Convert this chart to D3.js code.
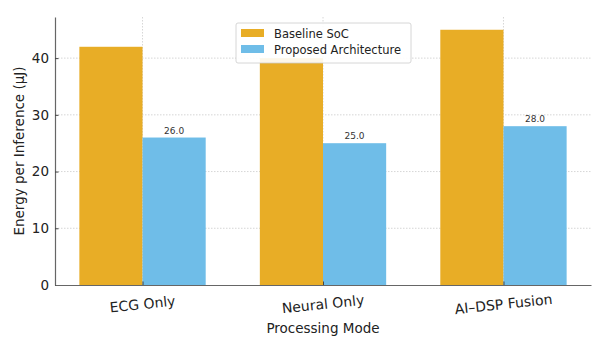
<!DOCTYPE html>
<html>
<head>
<meta charset="utf-8">
<script src="https://cdn.jsdelivr.net/npm/d3@7"></script>
<style>
  body { margin: 0; background: #fff; }
  svg { font-family: "DejaVu Sans", sans-serif; }
</style>
</head>
<body>
<div id="chart"></div>
<script>
const modes = ["ECG Only", "Neural Only", "AI\u2013DSP Fusion"];
const seriesNames = ["Baseline SoC", "Proposed Architecture"];
const baseline = [42, 40, 45];
const proposed = [26, 25, 28];
const yTicks = [0, 10, 20, 30, 40];
const colors = ["#E8AD26", "#6FBDE8"];

const w = 602, h = 350;
const padL = 55, padR = 591, padT = 17, padB = 285;

const svg = d3.select("#chart").append("svg")
  .attr("width", w).attr("height", h);

// category index scale with matplotlib-like margins
const barW = 0.35;
const xScale = d3.scaleLinear()
  .domain([-barW - 0.135, 2 + barW + 0.135])
  .range([padL, padR]);
const yScale = d3.scaleLinear()
  .domain([0, 47.25])
  .range([padB, padT]);

// grid
svg.append("g").selectAll("line")
  .data(yTicks.slice(1))
  .enter().append("line")
  .attr("x1", padL).attr("x2", padR)
  .attr("y1", d => yScale(d)).attr("y2", d => yScale(d))
  .attr("stroke", "#ccc").attr("stroke-width", 0.8)
  .attr("stroke-dasharray", "1.5,1.5");
svg.append("g").selectAll("line")
  .data(modes)
  .enter().append("line")
  .attr("x1", (d, i) => xScale(i)).attr("x2", (d, i) => xScale(i))
  .attr("y1", padT).attr("y2", padB)
  .attr("stroke", "#ccc").attr("stroke-width", 0.8)
  .attr("stroke-dasharray", "1.5,1.5");

const series = [baseline, proposed];
series.forEach((vals, s) => {
  svg.append("g").selectAll("rect")
    .data(vals)
    .enter().append("rect")
    .attr("x", (d, i) => xScale(i - barW + s * barW))
    .attr("width", xScale(barW) - xScale(0))
    .attr("y", d => yScale(d))
    .attr("height", d => padB - yScale(d))
    .attr("fill", colors[s]);
});

// value labels on proposed bars
svg.append("g").selectAll("text")
  .data(proposed)
  .enter().append("text")
  .attr("x", (d, i) => xScale(i + barW / 2))
  .attr("y", d => yScale(d) - 4)
  .attr("text-anchor", "middle")
  .attr("font-size", 9)
  .attr("fill", "#333")
  .text(d => d.toFixed(1));

// y axis
const yAxis = d3.axisLeft(yScale).tickValues(yTicks).tickSizeInner(-3.5).tickSizeOuter(0).tickPadding(6);
const gy = svg.append("g")
  .attr("transform", "translate(" + padL + ",0)")
  .call(yAxis);
gy.select(".domain").attr("stroke", "#666").attr("stroke-width", 1.2);
gy.selectAll(".tick line").attr("stroke", "#444");
gy.selectAll(".tick text").attr("font-size", 13.5).attr("fill", "#222")
  .attr("font-family", "DejaVu Sans");

// x axis
const xAxis = d3.axisBottom(xScale).tickValues([0, 1, 2]).tickFormat(i => modes[i])
  .tickSizeInner(-3.5).tickSizeOuter(0);
const gx = svg.append("g")
  .attr("transform", "translate(0," + padB + ")")
  .call(xAxis);
gx.select(".domain").attr("stroke", "#666").attr("stroke-width", 1.2);
gx.selectAll(".tick line").attr("stroke", "#444");
gx.selectAll(".tick text")
  .attr("font-size", 14).attr("fill", "#222").attr("font-family", "DejaVu Sans")
  .attr("y", 0).attr("dy", 0)
  .attr("transform", "translate(0,24) rotate(-6)");

// axis titles
svg.append("text")
  .attr("x", (padL + padR) / 2).attr("y", 333)
  .attr("text-anchor", "middle").attr("font-size", 13.5).attr("fill", "#222")
  .text("Processing Mode");
svg.append("text")
  .attr("transform", "translate(24," + ((padT + padB) / 2) + ") rotate(-90)")
  .attr("text-anchor", "middle").attr("font-size", 13.5).attr("fill", "#222")
  .text("Energy per Inference (\u03bcJ)");

// legend
const lg = svg.append("g").attr("transform", "translate(236,23)");
lg.append("rect").attr("width", 175).attr("height", 40).attr("rx", 2)
  .attr("fill", "#fff").attr("fill-opacity", 0.9)
  .attr("stroke", "#ccc").attr("stroke-width", 0.8);
seriesNames.forEach((n, i) => {
  lg.append("rect").attr("x", 5).attr("y", 6 + i * 16).attr("width", 23).attr("height", 8)
    .attr("fill", colors[i]);
  lg.append("text").attr("x", 38).attr("y", 14.5 + i * 16)
    .attr("font-size", 11.5).attr("fill", "#222").text(n);
});
</script>
</body>
</html>
